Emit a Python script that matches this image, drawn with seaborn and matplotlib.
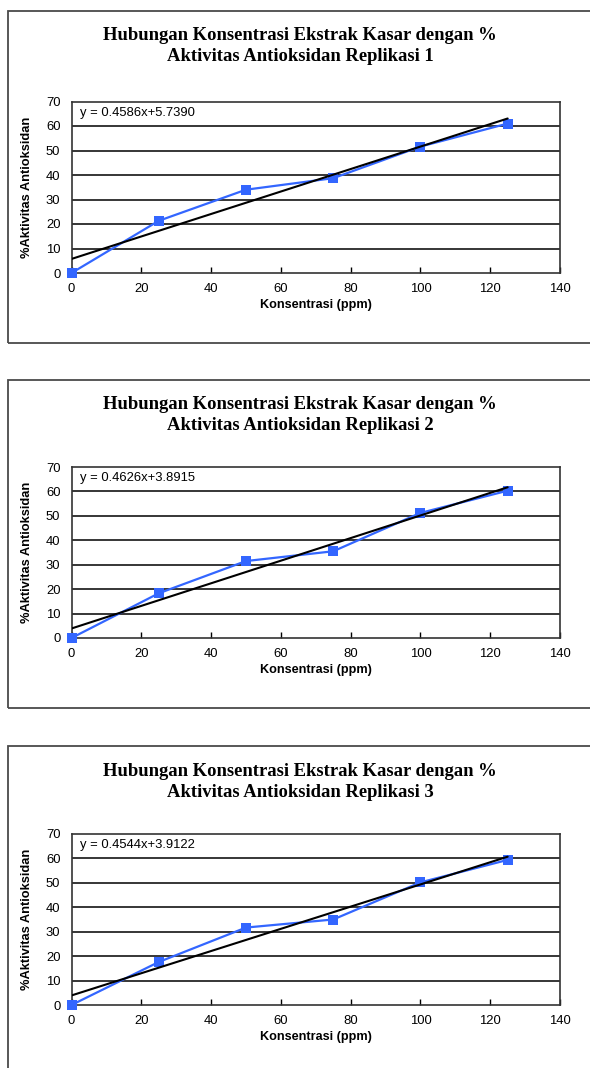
import numpy as np
import pandas as pd
import matplotlib
matplotlib.use("Agg")
import matplotlib.pyplot as plt
from matplotlib.patches import Rectangle
import seaborn as sns

# Concentrations (ppm) and % antioxidant activity per replicate
konsentrasi = [0, 25, 50, 75, 100, 125]
replikasi_1 = [0.0, 21.3, 34.0, 38.7, 51.6, 61.0]
replikasi_2 = [0.0, 18.3, 31.5, 35.5, 51.2, 60.3]
replikasi_3 = [0.0, 17.6, 31.7, 35.0, 50.2, 59.4]

# Linear trendline coefficients (slope, intercept) per replicate
slopes = [0.4586, 0.4626, 0.4544]
intercepts = [5.7390, 3.8915, 3.9122]

titles = [
    "Hubungan Konsentrasi Ekstrak Kasar dengan %\nAktivitas Antioksidan Replikasi 1",
    "Hubungan Konsentrasi Ekstrak Kasar dengan %\nAktivitas Antioksidan Replikasi 2",
    "Hubungan Konsentrasi Ekstrak Kasar dengan %\nAktivitas Antioksidan Replikasi 3",
]
x_ticks = [0, 20, 40, 60, 80, 100, 120, 140]
y_ticks = [0, 10, 20, 30, 40, 50, 60, 70]
x_label = "Konsentrasi (ppm)"
y_label = "%Aktivitas Antioksidan"

sns.set_theme(style="white")
plt.rcParams["font.family"] = ["Liberation Sans", "DejaVu Sans"]

W, H = 590, 1068
fig = plt.figure(figsize=(W / 100, H / 100), dpi=100)
fig.patch.set_facecolor("white")

def fx(px):
    return px / W

def fy(py):
    return 1 - py / H

# panel layout in pixels: frame top, frame bottom, axes top, axes bottom, title centre
panels = [
    dict(frame=(11, 343), axes=(101.5, 273), title=46),
    dict(frame=(380, 708), axes=(467, 638), title=415),
    dict(frame=(746, 1090), axes=(834, 1005), title=782),
]
series = [replikasi_1, replikasi_2, replikasi_3]

blue = "#3366FF"
ax_left, ax_right = 71.5, 560

for i, p in enumerate(panels):
    ft, fb = p["frame"]
    fig.patches.append(Rectangle((fx(8), fy(fb)), fx(600 - 8), fy(ft) - fy(fb),
                                 transform=fig.transFigure, fill=False,
                                 edgecolor="#4a4a4a", linewidth=1.3, zorder=0))
    fig.text(fx(300), fy(p["title"]), titles[i], ha="center", va="center",
             family=["Liberation Serif", "DejaVu Serif"], fontweight="bold",
             fontsize=13.4, linespacing=1.35, color="black")

    at, ab = p["axes"]
    ax = fig.add_axes([fx(ax_left), fy(ab), fx(ax_right - ax_left), fy(at) - fy(ab)])
    ax.set_facecolor("white")

    df = pd.DataFrame({"x": konsentrasi, "y": series[i]})
    trend = pd.DataFrame({"x": [konsentrasi[0], konsentrasi[-1]]})
    trend["y"] = slopes[i] * trend["x"] + intercepts[i]

    for yv in y_ticks[1:-1]:
        ax.axhline(yv, color="black", linewidth=1.1, zorder=1)

    sns.lineplot(data=df, x="x", y="y", ax=ax, color=blue, linewidth=1.6,
                 marker="s", markersize=6.5, markeredgewidth=0, zorder=3,
                 clip_on=False)
    sns.lineplot(data=trend, x="x", y="y", ax=ax, color="black", linewidth=1.5,
                 zorder=4)

    ax.set_xlim(0, 140)
    ax.set_ylim(0, 70)
    ax.set_xticks(x_ticks)
    ax.set_yticks(y_ticks)
    ax.tick_params(axis="x", direction="in", length=4, width=1, pad=7,
                   labelsize=9.4, colors="black", bottom=True)
    ax.tick_params(axis="y", length=0, pad=8, labelsize=9.4, colors="black", left=False)
    for s in ax.spines.values():
        s.set_visible(True)
        s.set_color("#333333")
        s.set_linewidth(1.2)
    ax.set_xlabel(x_label, fontsize=9.1, fontweight="bold", labelpad=3, color="black")
    ax.set_ylabel(y_label, fontsize=9.3, fontweight="bold", labelpad=9, color="black")
    ax.grid(False)

    eq = f"y = {slopes[i]:.4f}x+{intercepts[i]:.4f}"
    ax.text(0.017, 0.935, eq, transform=ax.transAxes, ha="left", va="center",
            fontsize=9.4, color="black")

fig.savefig("out.png", dpi=100, facecolor="white")
